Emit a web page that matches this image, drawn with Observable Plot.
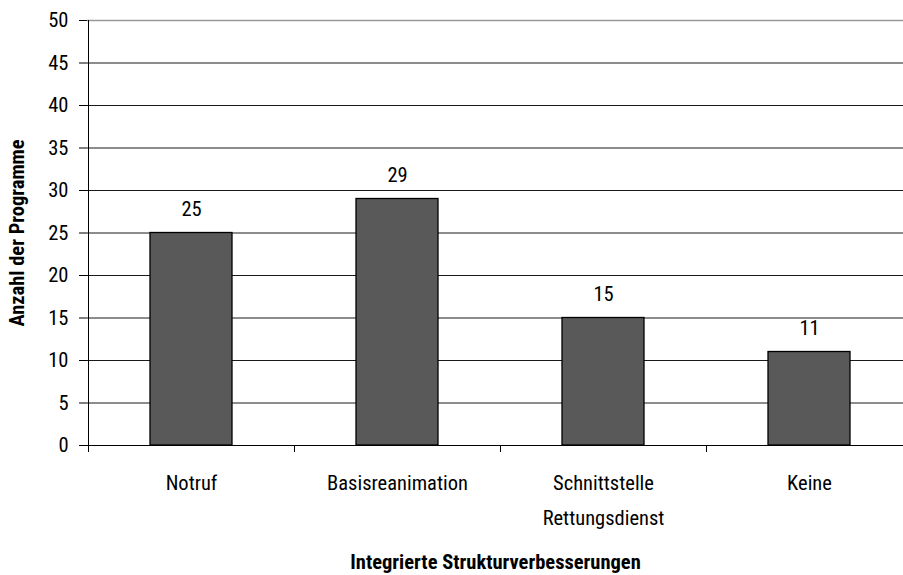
<!DOCTYPE html>
<html>
<head>
<meta charset="utf-8">
<script src="https://cdn.jsdelivr.net/npm/d3@7"></script>
<script src="https://cdn.jsdelivr.net/npm/@observablehq/plot@0.6"></script>
<style>
  html, body { margin: 0; padding: 0; background: #fff; }
  #chart svg { display: block; }
  #chart svg, #chart svg text { font-family: "Roboto Condensed", "Liberation Sans Narrow", "DejaVu Sans Condensed", sans-serif; font-stretch: condensed; }
</style>
</head>
<body>
<div id="chart"></div>
<script>
const categories = ["Notruf", "Basisreanimation", "Schnittstelle", "Keine"];
const categoryLabels = ["Notruf", "Basisreanimation", "Schnittstelle\nRettungsdienst", "Keine"];
const values = [25, 29, 15, 11];
const yTicks = [0, 5, 10, 15, 20, 25, 30, 35, 40, 45, 50];
const xTitle = "Integrierte Strukturverbesserungen";
const yTitle = "Anzahl der Programme";

const data = categories.map((c, i) => ({category: c, value: values[i]}));
const labelOf = Object.fromEntries(categories.map((c, i) => [c, categoryLabels[i]]));

function boundaryTicks(index, scales, values, dimensions) {
  const x = scales.x, y = scales.y;
  const step = x(categories[1]) - x(categories[0]);
  const bw = typeof x.bandwidth === "function" ? x.bandwidth() : step * 0.4;
  const off = (step - bw) / 2;
  const y0 = y(0);
  const g = d3.create("svg:g").attr("stroke", "#000").attr("stroke-width", 1);
  const xs = categories.map(c => x(c) - off);
  xs.push(x(categories[categories.length - 1]) + bw + off);
  for (const px of xs) {
    g.append("line").attr("x1", Math.round(px) + 0.5).attr("x2", Math.round(px) + 0.5)
      .attr("y1", y0).attr("y2", y0 + 7);
  }
  const left = Math.round(xs[0]) + 0.5;
  g.append("line").attr("x1", left).attr("x2", left).attr("y1", y(50)).attr("y2", y0);
  return g.node();
}

const FS = 20.5;
const chart = Plot.plot({
  width: 903,
  height: 575,
  marginLeft: 87,
  marginRight: 0,
  marginTop: 20,
  marginBottom: 130,
  style: {fontSize: FS + "px", color: "#000", background: "#fff"},
  x: {domain: categories, range: [87, 913], paddingInner: 0.6, paddingOuter: 0.3},
  y: {domain: [0, 50]},
  marks: [
    Plot.gridY(yTicks, {stroke: d => d === 50 ? "#999" : "#1a1a1a", strokeOpacity: 1, strokeWidth: d => d === 50 ? 1.5 : 1}),
    Plot.barY(data, {x: "category", y: "value", fill: "#595959", stroke: "#000", strokeWidth: 1.3}),
    Plot.ruleY([0], {stroke: "#000", strokeWidth: 1}),
    boundaryTicks,
    Plot.axisY({ticks: yTicks, tickSize: 8, tickPadding: 11, label: null, fontSize: FS}),
    Plot.axisX({tickSize: 0, tickPadding: 20, tickFormat: d => labelOf[d], lineHeight: 1.71, label: null, fontSize: FS}),
    Plot.text(data, {x: "category", y: "value", text: d => String(d.value), dy: -24, fontSize: FS, lineAnchor: "middle"}),
    Plot.text([xTitle], {frameAnchor: "bottom", dy: 117, text: d => d, fontWeight: "bold", fontSize: FS, textAnchor: "middle", lineAnchor: "middle"}),
    Plot.text([yTitle], {frameAnchor: "left", dx: -70, rotate: -90, text: d => d, fontWeight: "bold", fontSize: FS, textAnchor: "middle", lineAnchor: "middle"})
  ]
});
document.getElementById("chart").appendChild(chart);
</script>
</body>
</html>
